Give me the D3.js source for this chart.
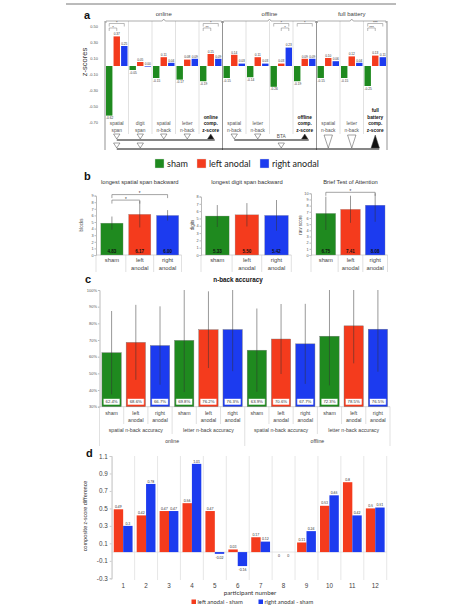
<!DOCTYPE html>
<html>
<head>
<meta charset="utf-8">
<script src="https://cdnjs.cloudflare.com/ajax/libs/d3/7.8.5/d3.min.js"></script>
<style>
    body { margin: 0; background: #fff; }
    svg { display: block; font-family: "Liberation Sans", Arial, sans-serif; }
</style>
</head>
<body>
<div id="chart"></div>
<script>
// series
const seriesNames = ["sham", "left anodal", "right anodal"];
const seriesColors = ["#1f8a1f", "#f43b1d", "#1c3bef"];

// panel a: z-scores
const aLabels = [["spatial", "span"], ["digit", "span"], ["spatial", "n-back"], ["letter", "n-back"], ["online", "comp.", "z-score"],
    ["spatial", "n-back"], ["letter", "n-back"], ["BTA"], ["offline", "comp.", "z-score"],
    ["spatial", "n-back"], ["letter", "n-back"], ["full", "battery", "comp.", "z-score"]];
const aSham = [-0.62, -0.05, -0.15, -0.17, -0.19, -0.15, -0.14, -0.26, -0.19, -0.15, -0.15, -0.25];
const aLeft = [0.37, 0.05, 0.11, 0.08, 0.15, 0.14, 0.11, 0.03, 0.09, 0.10, 0.12, 0.13];
const aRight = [0.25, 0.00, 0.04, 0.09, 0.09, 0.03, 0.03, 0.23, 0.09, 0.06, 0.04, 0.11];
const aTicks = [0.5, 0.3, 0.1, -0.1, -0.3, -0.5, -0.7];
const aSections = ["online", "offline", "full battery"];
const aSectionStart = [0, 5, 9, 12];
const aComposite = [4, 8, 11];
// group, series from, series to, level, stars
const aSig = [[0, 0, 2, 0, "*"], [0, 0, 1, 1, "*"], [4, 0, 2, 0, "*"], [4, 0, 1, 1, "**"], [7, 0, 2, 0, "*"], [7, 1, 2, 1, "*"],
    [8, 0, 2, 0, "*"], [11, 0, 2, 0, "***"], [11, 0, 1, 1, "***"]];
// group, row (0 = both rows), filled
const aTri = [[0, 1, 0], [1, 1, 0], [2, 1, 0], [3, 1, 0], [4, 1, 1], [5, 1, 0], [6, 1, 0], [8, 1, 1],
    [0, 2, 0], [1, 2, 0], [7, 2, 0], [9, 0, 0], [10, 0, 0], [11, 0, 1]];
const aTriLines = [[0, 4, 1], [5, 8, 1], [0, 11, 2]];

// panel b
const bTitles = ["longest spatial span backward", "longest digit span backward", "Brief Test of Attention"];
const bYTitles = ["blocks", "digits", "raw score"];
const bYMax = [9, 8, 10];
const bMeans = [[4.83, 6.17, 6.00], [5.33, 5.50, 5.42], [6.75, 7.41, 8.08]];
const bSD = [[1.0, 2.0, 0.8], [1.5, 1.6, 2.1], [2.7, 2.2, 2.7]];
const bSig = [[0, 0, 2, 0, "*"], [0, 0, 1, 1, "*"], [2, 0, 2, 0, "*"]];
const bCats = [["sham"], ["left", "anodal"], ["right", "anodal"]];

// panel c
const cMeans = [62.4, 68.6, 66.7, 69.8, 76.2, 76.3, 63.9, 70.6, 67.7, 72.3, 78.5, 76.5];
const cSD = [25, 22.5, 23.5, 31, 23, 25, 25, 21, 24, 29.5, 22.5, 25.5];
const cTasks = ["spatial n-back accuracy", "letter n-back accuracy", "spatial n-back accuracy", "letter n-back accuracy"];
const cSessions = ["online", "offline"];
const cTicks = [30, 40, 50, 60, 70, 80, 90, 100];

// panel d
const dParticipants = ["1", "2", "3", "4", "5", "6", "7", "8", "9", "10", "11", "12"];
const dLeft = [0.49, 0.42, 0.47, 0.56, 0.47, 0.03, 0.17, 0, 0.11, 0.53, 0.8, 0.5];
const dRight = [0.3, 0.78, 0.47, 1.01, -0.02, -0.16, 0.12, 0, 0.24, 0.65, 0.42, 0.51];
const dSeries = ["left anodal - sham", "right anodal - sham"];
const dTicks = [1.1, 0.9, 0.7, 0.5, 0.3, 0.1, -0.1, -0.3];

const w = 475, h = 612;
const svg = d3.select('#chart').append('svg').attr('width', w).attr('height', h);
svg.append('rect').attr('width', w).attr('height', h).attr('fill', '#fff');

const fmt = (v, n) => v.toFixed(n);

// top rule
svg.append('line').attr('x1', 66).attr('x2', 396).attr('y1', 4).attr('y2', 4).attr('stroke', '#777');

// panel letters
[["a", 84, 19], ["b", 84, 180], ["c", 85, 283], ["d", 86, 457]].forEach(l => {
    svg.append('text').attr('x', l[1]).attr('y', l[2]).text(l[0])
        .style('font-size', '11px').style('font-weight', 'bold').attr('fill', '#111');
});

// ================= panel a =================
const aVals = [aSham, aLeft, aRight];
const ax = d3.scaleBand().domain(d3.range(12)).range([105, 387]);
const axSub = d3.scaleBand().domain([0, 1, 2]).range([1, ax.bandwidth() - 1]).paddingInner(0.15);
const ay = d3.scaleLinear().domain([-0.7, 0.5]).range([122, 26]);
const ga = svg.append('g');

ga.append('g').attr('transform', 'translate(101,0)')
    .call(d3.axisLeft(ay).tickValues(aTicks).tickSize(0).tickFormat(d => fmt(d, 2)))
    .call(g => g.select('.domain').remove())
    .selectAll('text').style('font-size', '4px').attr('fill', '#555');

ga.append('text').attr('transform', 'rotate(-90)').attr('x', -62).attr('y', 87)
    .attr('text-anchor', 'middle').text('z-scores').style('font-size', '7.5px').attr('fill', '#333');

// group dividers
ga.selectAll('.gdiv').data(d3.range(1, 12).filter(i => aSectionStart.indexOf(i) < 0)).enter()
    .append('line').attr('x1', d => ax(d)).attr('x2', d => ax(d)).attr('y1', 21).attr('y2', 134)
    .attr('stroke', '#ccc').attr('stroke-width', 0.6);

// section frame and braces
aSections.forEach((s, i) => {
    const x0 = ax(aSectionStart[i]);
    const x1 = ax(aSectionStart[i + 1] - 1) + ax.bandwidth();
    const mid = (x0 + x1) / 2;
    ga.append('path')
        .attr('d', `M${x0 + 1},23 V21 H${mid - 1.5} L${mid},19 L${mid + 1.5},21 H${x1 - 1} V23`)
        .attr('fill', 'none').attr('stroke', '#777').attr('stroke-width', 0.6);
    ga.append('text').attr('x', mid).attr('y', 16).attr('text-anchor', 'middle')
        .text(s).style('font-size', '6px').attr('fill', '#444');
});
aSectionStart.forEach(i => {
    ga.append('line').attr('x1', ax(i) || 387).attr('x2', ax(i) || 387).attr('y1', 21).attr('y2', 150)
        .attr('stroke', '#666').attr('stroke-width', 0.7);
});

// bars
aVals.forEach((vals, s) => {
    ga.selectAll('.abar' + s).data(vals).enter().append('rect')
        .attr('x', (d, i) => ax(i) + axSub(s))
        .attr('y', d => ay(Math.max(0, d)))
        .attr('width', axSub.bandwidth())
        .attr('height', d => Math.max(0.6, Math.abs(ay(d) - ay(0))))
        .attr('fill', seriesColors[s]);
    ga.selectAll('.alab' + s).data(vals).enter().append('text')
        .attr('x', (d, i) => d < 0 ? ax(i) + axSub(s) : ax(i) + axSub(s) + axSub.bandwidth() / 2)
        .attr('y', d => d < 0 ? ay(d) + 3.5 : ay(d) - 1.2)
        .attr('text-anchor', d => d < 0 ? 'start' : 'middle')
        .text(d => fmt(d, 2)).style('font-size', '3.2px').attr('fill', '#333');
});

// group labels
aLabels.forEach((lines, i) => {
    const bottom = lines.length === 1 ? 138 : 131.5;
    const bold = aComposite.indexOf(i) >= 0;
    lines.forEach((t, k) => {
        ga.append('text').attr('x', ax(i) + ax.bandwidth() / 2)
            .attr('y', bottom - (lines.length - 1 - k) * 6.5)
            .attr('text-anchor', 'middle').text(t)
            .style('font-size', '4.8px').style('font-weight', bold ? 'bold' : 'normal')
            .attr('fill', bold ? '#111' : '#555');
    });
});

// significance brackets
const aBarMid = (g, s) => ax(g) + axSub(s) + axSub.bandwidth() / 2;
aSig.forEach(d => {
    const y = 23.5 + d[3] * 4.5;
    const x0 = aBarMid(d[0], d[1]), x1 = aBarMid(d[0], d[2]);
    ga.append('path').attr('d', `M${x0},${y + 3} V${y} H${x1} V${y + 3}`)
        .attr('fill', 'none').attr('stroke', '#777').attr('stroke-width', 0.5);
    ga.append('text').attr('x', (x0 + x1) / 2).attr('y', y + 0.6).attr('text-anchor', 'middle')
        .text(d[4]).style('font-size', '4px').attr('fill', '#333');
});

// composite triangles
const aMid = g => ax(g) + ax.bandwidth() / 2;
aTriLines.forEach(d => {
    const y = d[2] === 1 ? 140 : 149;
    ga.append('line').attr('x1', aMid(d[0])).attr('x2', aMid(d[1]) + 4).attr('y1', y).attr('y2', y)
        .attr('stroke', '#111').attr('stroke-width', 1.1);
});
aTri.forEach(d => {
    const cx = aMid(d[0]);
    let y0, y1, hw;
    if (d[1] === 1) { y0 = 134; y1 = 139; hw = 3.2; }
    else if (d[1] === 2) { y0 = 143; y1 = 148; hw = 3.2; }
    else { y0 = 135; y1 = 148; hw = 4.2; }
    const pts = d[2] ? `${cx - hw},${y1} ${cx + hw},${y1} ${cx},${y0}` : `${cx - hw},${y0} ${cx + hw},${y0} ${cx},${y1}`;
    ga.append('polygon').attr('points', pts)
        .attr('fill', d[2] ? '#111' : '#fff').attr('stroke', '#444').attr('stroke-width', 0.5);
});

// ================= legend =================
const legX = [155, 197, 260];
seriesNames.forEach((n, i) => {
    svg.append('rect').attr('x', legX[i]).attr('y', 159).attr('width', 9).attr('height', 9)
        .attr('fill', seriesColors[i]).attr('stroke', '#ddd').attr('stroke-width', 0.4);
    svg.append('text').attr('x', legX[i] + 12).attr('y', 166.5).text(n)
        .style('font-size', '9px').style('font-family', 'Lato, sans-serif').attr('fill', '#222');
});

// ================= panel b =================
const bAxisX = [96, 201, 311];
const bRange = [[98, 181.5], [202.5, 291.3], [313.5, 387.5]];
const bTop = [195.6, 196.5, 193.3];
const bYTitleX = [83, 194, 302];
bTitles.forEach((title, p) => {
    const g = svg.append('g');
    const x = d3.scaleBand().domain([0, 1, 2]).range(bRange[p]).paddingInner(0.2).paddingOuter(0.1);
    const y = d3.scaleLinear().domain([0, bYMax[p]]).range([255, bTop[p]]);
    g.append('text').attr('x', (bRange[p][0] + bRange[p][1]) / 2).attr('y', 184).attr('text-anchor', 'middle')
        .text(title).style('font-size', '5.8px').attr('fill', '#333');
    g.append('g').attr('transform', `translate(${bAxisX[p]},0)`)
        .call(d3.axisLeft(y).ticks(bYMax[p]).tickSize(1.5).tickFormat(d3.format('d')))
        .call(a => a.select('.domain').attr('stroke', '#bbb'))
        .call(a => a.selectAll('line').attr('stroke', '#bbb'))
        .selectAll('text').style('font-size', '3.8px').attr('fill', '#555').attr('x', -2.5);
    g.append('text').attr('transform', 'rotate(-90)').attr('x', -225).attr('y', bYTitleX[p])
        .attr('text-anchor', 'middle').text(bYTitles[p]).style('font-size', '4.5px').attr('fill', '#444');
    // table lines
    g.append('line').attr('x1', bAxisX[p]).attr('x2', bRange[p][1]).attr('y1', 255).attr('y2', 255)
        .attr('stroke', '#bbb').attr('stroke-width', 0.6);
    [0, 1, 2, 3].forEach(k => {
        const xx = k === 0 ? bAxisX[p] : (k === 3 ? bRange[p][1] : x(k) - x.step() * 0.1);
        g.append('line').attr('x1', xx).attr('x2', xx).attr('y1', 255).attr('y2', 272)
            .attr('stroke', '#ccc').attr('stroke-width', 0.6);
    });
    g.selectAll('rect').data(bMeans[p]).enter().append('rect')
        .attr('x', (d, i) => x(i)).attr('y', d => y(d))
        .attr('width', x.bandwidth()).attr('height', d => 255 - y(d))
        .attr('fill', (d, i) => seriesColors[i]).attr('stroke', '#999').attr('stroke-width', 0.3);
    g.selectAll('.err').data(bMeans[p]).enter().append('line')
        .attr('x1', (d, i) => x(i) + x.bandwidth() / 2).attr('x2', (d, i) => x(i) + x.bandwidth() / 2)
        .attr('y1', (d, i) => y(Math.min(bYMax[p], d + bSD[p][i]))).attr('y2', (d, i) => y(d - bSD[p][i]))
        .attr('stroke', '#333').attr('stroke-width', 0.5);
    g.selectAll('.val').data(bMeans[p]).enter().append('text')
        .attr('x', (d, i) => x(i) + x.bandwidth() / 2).attr('y', 253).attr('text-anchor', 'middle')
        .text(d => fmt(d, 2)).style('font-size', '4.5px').style('font-weight', 'bold').attr('fill', '#111');
    bCats.forEach((lines, i) => {
        lines.forEach((t, k) => {
            g.append('text').attr('x', x(i) + x.bandwidth() / 2).attr('y', 262 + k * 7.5)
                .attr('text-anchor', 'middle').text(t).style('font-size', '5.8px').attr('fill', '#444');
        });
    });
    bSig.filter(d => d[0] === p).forEach(d => {
        const yy = bTop[p] - 1 + d[3] * 5.5;
        const x0 = x(d[1]) + x.bandwidth() / 2, x1 = x(d[2]) + x.bandwidth() / 2;
        g.append('path').attr('d', `M${x0},${yy + 3.5} V${yy} H${x1} V${yy + 3.5}`)
            .attr('fill', 'none').attr('stroke', '#666').attr('stroke-width', 0.6);
        g.append('text').attr('x', (x0 + x1) / 2).attr('y', yy + 0.5).attr('text-anchor', 'middle')
            .text(d[4]).style('font-size', '4.5px').attr('fill', '#333');
    });
});

// ================= panel c =================
const gc = svg.append('g');
const cx = d3.scaleBand().domain(d3.range(12)).range([99.5, 390]).paddingInner(0.2).paddingOuter(0.1);
const cy = d3.scaleLinear().domain([30, 100]).range([406.7, 290]);
gc.append('text').attr('x', 238).attr('y', 282).attr('text-anchor', 'middle').text('n-back accuracy')
    .style('font-size', '6.3px').style('font-weight', 'bold').attr('fill', '#111');
gc.append('g').attr('transform', 'translate(99.5,0)')
    .call(d3.axisLeft(cy).tickValues(cTicks).tickSize(1.5).tickFormat(d => d + '%'))
    .call(a => a.select('.domain').attr('stroke', '#bbb'))
    .call(a => a.selectAll('line').attr('stroke', '#bbb'))
    .selectAll('text').style('font-size', '4px').attr('fill', '#555').attr('x', -2.5);
gc.append('line').attr('x1', 99.5).attr('x2', 390).attr('y1', 406.7).attr('y2', 406.7)
    .attr('stroke', '#bbb').attr('stroke-width', 0.6);
d3.range(13).forEach(i => {
    const xx = 99.5 + i * cx.step();
    const y2 = (i % 12 === 0 || i === 6) ? 446 : (i % 3 === 0 ? 434 : 424);
    gc.append('line').attr('x1', xx).attr('x2', xx).attr('y1', 406.7).attr('y2', y2)
        .attr('stroke', '#ccc').attr('stroke-width', 0.6);
});
gc.selectAll('.cbar').data(cMeans).enter().append('rect')
    .attr('x', (d, i) => cx(i)).attr('y', d => cy(d))
    .attr('width', cx.bandwidth()).attr('height', d => cy(30) - cy(d))
    .attr('fill', (d, i) => seriesColors[i % 3]).attr('stroke', '#777').attr('stroke-width', 0.4);
gc.selectAll('.cerr').data(cMeans).enter().append('line')
    .attr('x1', (d, i) => cx(i) + cx.bandwidth() / 2).attr('x2', (d, i) => cx(i) + cx.bandwidth() / 2)
    .attr('y1', (d, i) => cy(Math.min(100, d + cSD[i]))).attr('y2', (d, i) => cy(d - cSD[i]))
    .attr('stroke', '#333').attr('stroke-width', 0.5);
gc.selectAll('.cbox').data(cMeans).enter().append('rect')
    .attr('x', (d, i) => cx(i) + 1.3).attr('y', 398.5)
    .attr('width', cx.bandwidth() - 2.6).attr('height', 6.5).attr('rx', 0.8)
    .attr('fill', '#fff').attr('stroke', (d, i) => seriesColors[i % 3]).attr('stroke-width', 0.6);
gc.selectAll('.cval').data(cMeans).enter().append('text')
    .attr('x', (d, i) => cx(i) + cx.bandwidth() / 2).attr('y', 403.3).attr('text-anchor', 'middle')
    .text(d => fmt(d, 1) + '%').style('font-size', '4.3px').attr('fill', '#333');
cMeans.forEach((d, i) => {
    bCats[i % 3].forEach((t, k) => {
        gc.append('text').attr('x', cx(i) + cx.bandwidth() / 2).attr('y', 414.5 + k * 7.3)
            .attr('text-anchor', 'middle').text(t).style('font-size', '5.2px').attr('fill', '#444');
    });
});
cTasks.forEach((t, i) => {
    gc.append('text').attr('x', 99.5 + (i * 3 + 1.5) * cx.step()).attr('y', 432).attr('text-anchor', 'middle')
        .text(t).style('font-size', '5.2px').attr('fill', '#444');
});
cSessions.forEach((t, i) => {
    gc.append('text').attr('x', 99.5 + (i * 6 + 3) * cx.step()).attr('y', 443).attr('text-anchor', 'middle')
        .text(t).style('font-size', '5.2px').attr('fill', '#444');
});

// ================= panel d =================
const gd = svg.append('g').style('font-family', 'Lato, "Open Sans", sans-serif');
const dx = d3.scaleBand().domain(dParticipants).range([111.7, 386.7]).paddingInner(0.18).paddingOuter(0.09);
const dxSub = d3.scaleBand().domain([0, 1]).range([0, dx.bandwidth()]);
const dy = d3.scaleLinear().domain([-0.3, 1.1]).range([578.3, 456]);
const dColors = [seriesColors[1], seriesColors[2]];
d3.range(13).forEach(i => {
    const xx = 111.7 + i * dx.step();
    gd.append('line').attr('x1', xx).attr('x2', xx).attr('y1', 456).attr('y2', 580)
        .attr('stroke', '#ddd').attr('stroke-width', 0.7);
});
gd.append('line').attr('x1', 111.7).attr('x2', 386.7).attr('y1', dy(0)).attr('y2', dy(0))
    .attr('stroke', '#ddd').attr('stroke-width', 0.7);
gd.append('g').attr('transform', 'translate(111.7,0)')
    .call(d3.axisLeft(dy).tickValues(dTicks).tickSize(2).tickFormat(d3.format('.1f')))
    .call(a => a.select('.domain').attr('stroke', '#ccc'))
    .call(a => a.selectAll('line').attr('stroke', '#ccc'))
    .selectAll('text').style('font-size', '6.3px').attr('fill', '#444').attr('x', -4)
    .text(d => fmt(d, 1));
gd.append('g').attr('transform', 'translate(0,578.3)')
    .call(d3.axisBottom(dx).tickSize(0))
    .call(a => a.select('.domain').remove())
    .selectAll('text').style('font-size', '6.3px').attr('fill', '#444').attr('y', 5);
[dLeft, dRight].forEach((vals, s) => {
    gd.selectAll('.dbar' + s).data(vals).enter().append('rect')
        .attr('x', (d, i) => dx(dParticipants[i]) + dxSub(s))
        .attr('y', d => dy(Math.max(0, d)))
        .attr('width', dxSub.bandwidth())
        .attr('height', d => Math.abs(dy(d) - dy(0)))
        .attr('fill', dColors[s]);
    gd.selectAll('.dlab' + s).data(vals).enter().append('text')
        .attr('x', (d, i) => dx(dParticipants[i]) + dxSub(s) + dxSub.bandwidth() / 2)
        .attr('y', d => d > 0 ? dy(d) - 1.3 : dy(d) + 5)
        .attr('text-anchor', 'middle').text(d => String(d))
        .style('font-size', '3.4px').attr('fill', '#333');
});
gd.append('text').attr('transform', 'rotate(-90)').attr('x', -516).attr('y', 87)
    .attr('text-anchor', 'middle').text('composite z-score difference').style('font-size', '5.6px').attr('fill', '#333');
gd.append('text').attr('x', 250).attr('y', 595).attr('text-anchor', 'middle').text('participant number')
    .style('font-size', '6.3px').attr('fill', '#333');
const dLegX = [191.5, 258.5];
dSeries.forEach((n, i) => {
    gd.append('rect').attr('x', dLegX[i]).attr('y', 599.5).attr('width', 4.5).attr('height', 4.5).attr('fill', dColors[i]);
    gd.append('text').attr('x', dLegX[i] + 6).attr('y', 604).text(n).style('font-size', '5.8px').attr('fill', '#333');
});
</script>
</body>
</html>
